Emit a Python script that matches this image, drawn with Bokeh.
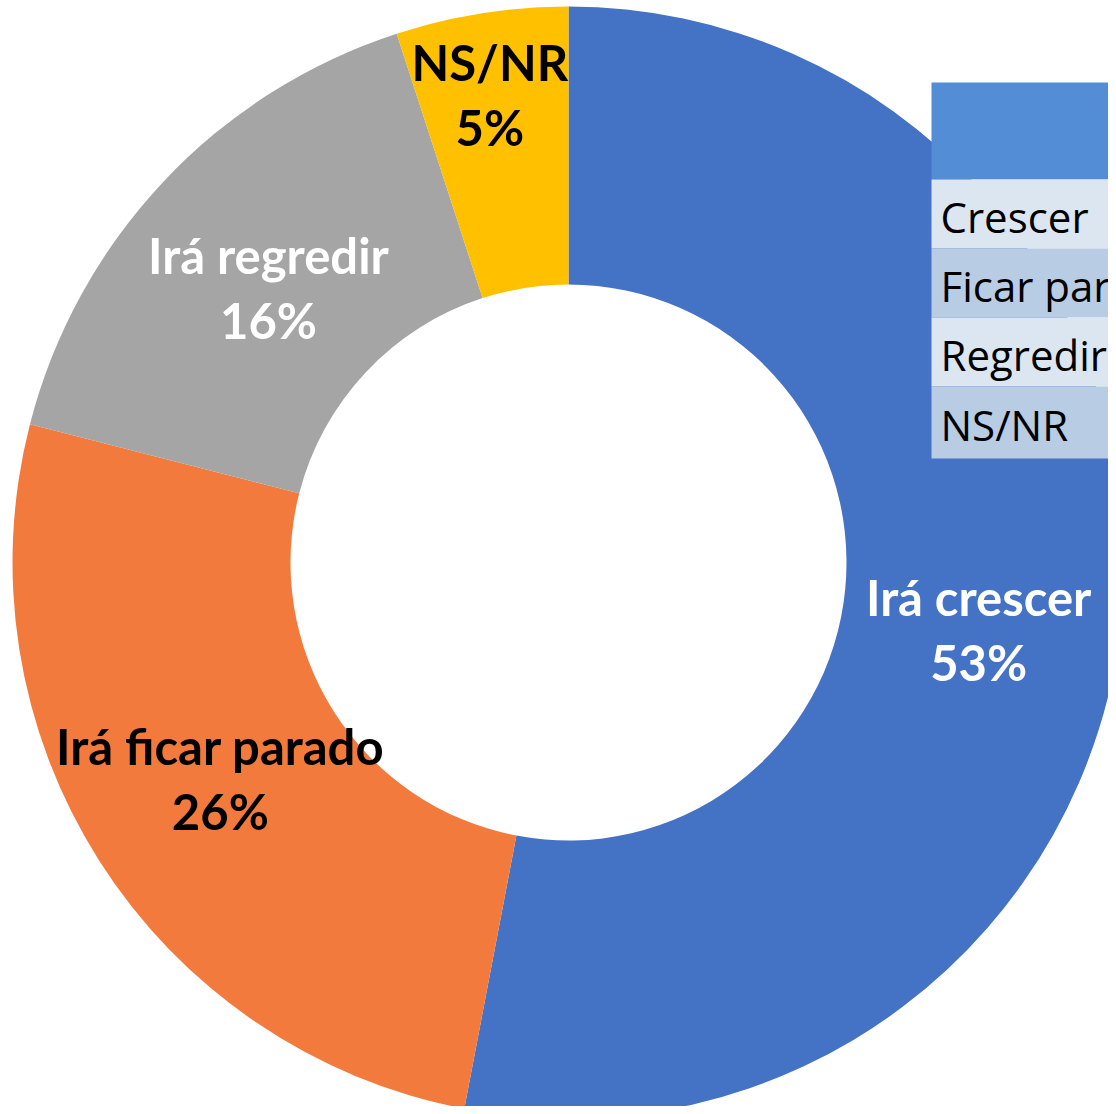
import math
from bokeh.plotting import figure
from bokeh.models import Range1d, ColumnDataSource
from bokeh.core.properties import value
from bokeh.embed import file_html
from bokeh.resources import INLINE

# ---- data ----
categories = ["Irá crescer", "Irá ficar parado", "Irá regredir", "NS/NR"]
shares = [53, 26, 16, 5]
colors = ["#4472C4", "#F37A3D", "#A5A5A5", "#FFC000"]
label_colors = ["white", "black", "white", "black"]
table_rows = ["Crescer", "Ficar parado", "Regredir", "NS/NR"]
table_colors = ["#DCE6F1", "#B8CCE4", "#DCE6F1", "#B8CCE4"]
header_color = "#538DD5"

W, H = 1108, 1106
p = figure(width=W, height=H, output_backend="svg", toolbar_location=None,
           x_range=Range1d(0, W), y_range=Range1d(0, H), min_border=0)
p.axis.visible = False
p.xgrid.visible = False
p.ygrid.visible = False
p.outline_line_color = None
p.background_fill_color = "white"

def Y(v):  # convert top-based pixel to data y
    return H - v

cx, cy = 568, Y(562)
r_out, r_in = 556, 278

total = sum(shares)
starts, ends, mids = [], [], []
cum = 0
for s in shares:
    a0 = math.pi / 2 - 2 * math.pi * cum / total
    a1 = math.pi / 2 - 2 * math.pi * (cum + s) / total
    starts.append(a0)
    ends.append(a1)
    mids.append((a0 + a1) / 2)
    cum += s

src = ColumnDataSource(dict(x=[cx] * 4, y=[cy] * 4, start=starts, end=ends, color=colors))
p.annular_wedge(x="x", y="y", inner_radius=r_in, outer_radius=r_out,
                start_angle="start", end_angle="end", direction="clock",
                fill_color="color", line_color=None, source=src)

# labels: mid-angle, with small radial/angular nudges like the original
label_r = [416, 411, 405, 472]
label_da = [-4.2, -0.3, 1.0, 0.6]
font = value("Lato")
for i, (name, s) in enumerate(zip(categories, shares)):
    a = mids[i] + math.radians(label_da[i])
    lx = cx + label_r[i] * math.cos(a)
    ly = cy + label_r[i] * math.sin(a)
    p.text(x=[lx, lx], y=[ly + 35, ly - 30], text=[name, f"{s}%"],
           text_font=font, text_font_style="bold", text_font_size="49px",
           text_color=label_colors[i], text_align="center", text_baseline="middle")

# table (legend-like) at top-right, clipped by the figure edge
tx0 = 931
p.quad(left=[tx0], right=[W + 200], top=[Y(82)], bottom=[Y(179)],
       fill_color=header_color, line_color=None)
row_edges = [179, 248, 317, 386, 458]
for i, (t, c) in enumerate(zip(table_rows, table_colors)):
    top, bot = row_edges[i], row_edges[i + 1]
    p.quad(left=[tx0], right=[W + 200], top=[Y(top)], bottom=[Y(bot)],
           fill_color=c, line_color=None)
    p.text(x=[tx0 + 9], y=[Y((top + bot) / 2 + 2)], text=[t],
           text_font=value("Open Sans"), text_font_size="42px", text_color="black",
           text_align="left", text_baseline="middle")

open("out.html", "w").write(file_html(p, INLINE))
